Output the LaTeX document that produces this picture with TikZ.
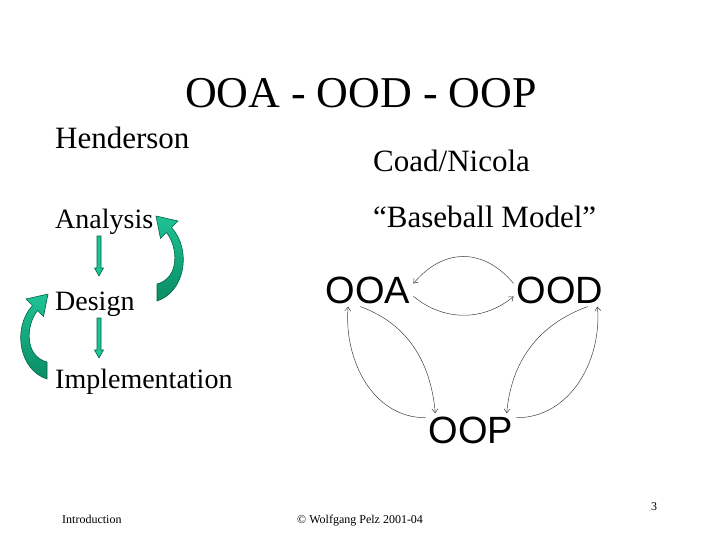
\documentclass[tikz,border=0pt]{standalone}
\usepackage{fontspec}
\setmainfont{Liberation Serif}
\newfontfamily\arialfont{Liberation Sans}
\usetikzlibrary{arrows.meta}

\definecolor{tealfill}{RGB}{30,195,150}
\definecolor{tealdark}{RGB}{10,140,100}
\definecolor{tealedge}{RGB}{0,100,70}

\tikzset{
  title/.style={font=\fontsize{44}{50}\selectfont, anchor=base, inner sep=0pt},
  heading/.style={font=\fontsize{31}{36}\selectfont, anchor=base west, inner sep=0pt},
  phase/.style={font=\fontsize{28}{32}\selectfont, anchor=base west, inner sep=0pt},
  ball/.style={font=\arialfont\fontsize{38}{42}\selectfont, anchor=base, inner sep=3pt},
  footer/.style={font=\fontsize{12}{14}\selectfont, anchor=base west, inner sep=0pt},
  flow/.style={draw=tealedge, fill=tealfill, line width=0.6pt, line join=round},
  loop/.style={draw=tealedge, top color=tealfill, bottom color=tealdark, line width=0.6pt, line join=round},
  throw/.style={black!75, line width=0.5pt, -{Straight Barb[length=4pt,width=6pt]}},
}

% block arrow pointing down, from #1 to #2
\newcommand{\blockarrow}[2]{%
  \path[flow] ([xshift=-2pt]#1) -- ([xshift=-2pt,yshift=8pt]#2) -- ([xshift=-4.5pt,yshift=8pt]#2)
    -- (#2) -- ([xshift=4.5pt,yshift=8pt]#2) -- ([xshift=2pt,yshift=8pt]#2) -- ([xshift=2pt]#1) -- cycle;}

% curved feedback arrow (tail at bottom, head top left)
\newcommand{\curlyarrow}{%
  \path[loop] (157,301) .. controls (185,292) and (192,250) .. (171.5,227.5)
    -- (178,221) -- (156,216) -- (160.5,238.5) -- (166.5,232.5)
    .. controls (178,247) and (180,278) .. (157,284) -- cycle;}

\begin{document}
\begin{tikzpicture}[x=1pt, y=-1pt]

    \useasboundingbox (0,0) rectangle (720,540);

    \node[title] (title) at (361,108) {OOA - OOD - OOP};

    \node[heading] (henderson) at (55,149) {Henderson};
    \node[heading] (coad) at (373,172) {Coad/Nicola};
    \node[heading] (baseball) at (373,228) {``Baseball Model''};

    % Henderson: waterfall with feedback
    \node[phase] (analysis) at (55,229) {Analysis};
    \node[phase] (design) at (55,310) {Design};
    \node[phase] (implementation) at (55,388) {Implementation};

    \coordinate (ad1) at (99,236);
    \coordinate (ad2) at (99,276);
    \coordinate (di1) at (99,318);
    \coordinate (di2) at (99,358);
    \blockarrow{ad1}{ad2} % analysis - design
    \blockarrow{di1}{di2} % design - implementation

    \curlyarrow % design back to analysis
    \begin{scope}[shift={(204,78)}, xscale=-1]
        \curlyarrow % implementation back to design
    \end{scope}

    % Coad/Nicola: baseball model
    \node[ball] (ooa) at (368,303) {OOA};
    \node[ball] (ood) at (560,303) {OOD};
    \node[ball] (oop) at (471,443) {OOP};

    \draw[throw] (ood.172) to[out=130, in=50, looseness=1.2] (ooa.8); % ood - ooa
    \draw[throw] (ooa.-8) to[out=-40, in=-140] (ood.188); % ooa - ood
    \draw[throw] (ooa.-115) to[out=-20, in=95] (oop.155); % ooa - oop
    \draw[throw] (oop.165) to[out=180, in=-95] (ooa.-140); % oop - ooa
    \draw[throw] (ood.-31) to[out=200, in=85] (oop.25); % ood - oop
    \draw[throw] (oop.15) to[out=0, in=-85] (ood.-24); % oop - ood

    \node[footer] (intro) at (62,523) {Introduction};
    \node[footer] (copy) at (297,523) {© Wolfgang Pelz 2001-04};
    \node[footer] (page) at (651,510) {3};
\end{tikzpicture}
\end{document}
